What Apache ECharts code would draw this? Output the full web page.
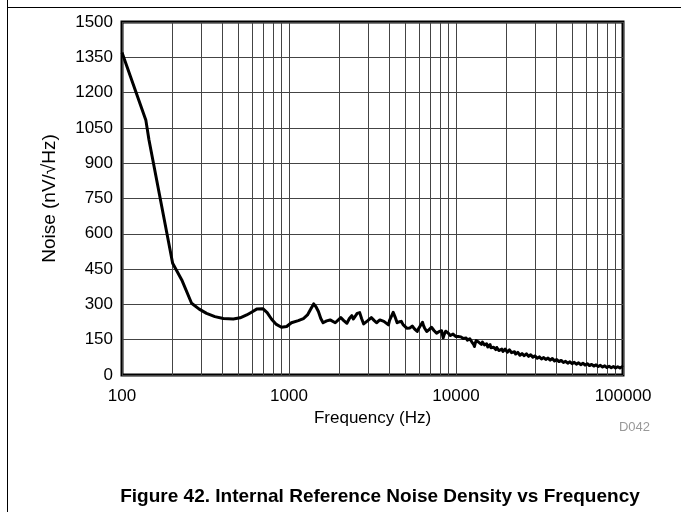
<!DOCTYPE html>
<html>
<head>
<meta charset="utf-8">
<script src="https://cdn.jsdelivr.net/npm/echarts@6/dist/echarts.min.js"></script>
<style>html,body{margin:0;padding:0;background:#fff;}#c{width:681px;height:512px;}</style>
</head>
<body>
<div id="c"></div>
<script>
const lowFreqHz = [100,139,145,201,228,261,290,321,360,404,464,510,558,600,640,697,740,787,840,901,968,1034,1137,1220,1290,1350,1405,1450,1500,1550,1600,1680,1763,1892,2042,2120,2222,2300,2377,2430,2491,2560,2650,2720,2800,2950,3110,3230,3343,3500,3700,3941];
const lowNoise = [1370,1082,1000,475,404,305,280,262,248,240,238,243,255,268,280,282,265,237,215,203,206,222,231,240,255,280,302,290,270,240,222,230,234,222,244,232,220,240,252,238,241,262,265,240,217,230,244,232,222,234,228,213];
const highFreqHz = [4000,4100,4207,4320,4440,4570,4700,4820,4950,5070,5200,5300,5380,5470,5560,5640,5700,5780,5860,5960,6080,6190,6300,6390,6480,6580,6680,6790,6900,7010,7130,7250,7380,7510,7650,7770,7900,8050,8200,8290,8380,8480,8580,8680,8780,8940,9100,9250,9400,9500,9600,9700,9800,9950,10100,10300,10500,10700,10900,11050,11200,11350,11500,11700,11900,12100,12300,12450,12600,12750,12900,13050,13200,13350,13500,13650,13800,14000,14200,14400,14600,14800,15000,15250,15500,15750,16000,16200,16400,16600,16800,17050,17300,17550,17800,18050,18300,18550,18800,19100,19400,19700,20000,20300,20600,20900,21200,21500,21800,22100,22400,22750,23100,23450,23800,24150,24500,24850,25200,25600,26000,26400,26800,27200,27600,28000,28400,28850,29300,29750,30200,30650,31100,31550,32000,32500,33000,33500,34000,34500,35000,35550,36100,36650,37200,37750,38300,38900,39500,40100,40700,41350,42000,42650,43300,43950,44600,45300,46000,46700,47400,48100,48800,49550,50300,51050,51800,52600,53400,54200,55000,55850,56700,57550,58400,59300,60200,61100,62000,62950,63900,64900,65900,66900,67900,68950,70000,71050,72100,73200,74300,75450,76600,77750,78900,80100,81300,82550,83800,85050,86300,87600,88900,90250,91600,93000,94400,95850,97300,98650,100000];
const highNoise = [232,240,266,246,222,226,228,214,207,199,192,200,198,208,204,196,194,188,185,196,206,214,224,210,200,192,185,190,193,200,203,195,189,182,178,186,184,192,188,172,158,170,178,186,190,180,172,168,164,172,174,168,176,164,160,164,156,162,166,155,150,160,157,148,145,154,150,140,138,130,121,136,146,154,152,140,137,144,130,140,141,128,126,133,119,127,129,116,113,122,118,110,108,117,114,104,102,111,110,100,104,110,105,97,99,107,106,95,93,101,99,89,87,96,94,84,83,91,91,82,84,90,88,79,78,86,85,76,75,81,79,71,70,77,75,68,68,74,73,66,66,72,70,63,64,70,68,60,60,66,64,57,56,62,61,53,52,58,57,50,50,56,54,48,48,54,52,46,46,52,50,44,45,50,48,42,42,48,46,40,40,45,44,38,38,43,42,36,36,41,40,34,34,39,37,32,33,37,36,31,31,36,34,30,30,35,33,30,31,35,33];
const minorGridHz = [200,300,400,500,600,700,800,900,2000,3000,4000,5000,6000,7000,8000,9000,20000,30000,40000,50000,60000,70000,80000,90000];
const yTicks = {min: 0, max: 1500, interval: 150};
const xTickLabels = ['100','1000','10000','100000'];

const freqHz = lowFreqHz.concat(highFreqHz);
const noise = lowNoise.concat(highNoise);

const chart = echarts.init(document.getElementById('c'), null, {renderer: 'canvas'});
const font = 'Liberation Sans, Arial, sans-serif';
const gridColor = '#444';
chart.setOption({
  animation: false,
  backgroundColor: '#fff',
  textStyle: {fontFamily: font},
  grid: {left: 122, right: 58, top: 22, bottom: 137, show: true, borderColor: '#000', borderWidth: 3, backgroundColor: 'transparent'},
  xAxis: {
    type: 'log', logBase: 10, min: 100, max: 100000,
    axisLine: {show: false}, axisTick: {show: false},
    axisLabel: {fontSize: 17, color: '#000', margin: 13, fontFamily: font,
      formatter: v => { const s = String(Math.round(v)); return xTickLabels.includes(s) ? s : ''; }},
    splitLine: {show: true, lineStyle: {color: gridColor, width: 1}},
    name: 'Frequency (Hz)', nameLocation: 'middle', nameGap: 33,
    nameTextStyle: {fontSize: 17, color: '#000', fontFamily: font}
  },
  yAxis: {
    type: 'value', min: yTicks.min, max: yTicks.max, interval: yTicks.interval,
    axisLine: {show: false}, axisTick: {show: false},
    axisLabel: {fontSize: 17, color: '#000', margin: 9, fontFamily: font, formatter: v => String(v)},
    splitLine: {show: true, lineStyle: {color: gridColor, width: 1}},
    name: 'Noise (nV/√Hz)', nameLocation: 'middle', nameGap: 63,
    nameTextStyle: {fontSize: 19, color: '#000', fontFamily: font}
  },
  series: [
    {
      type: 'line', z: 1, data: [[100, 0]], showSymbol: false, lineStyle: {width: 0}, silent: true,
      markLine: {
        silent: true, symbol: ['none', 'none'], label: {show: false},
        lineStyle: {color: gridColor, width: 1, type: 'solid'},
        data: minorGridHz.map(f => ({xAxis: f}))
      }
    },
    {
      type: 'line', z: 5, showSymbol: false, smooth: false,
      lineStyle: {color: '#000', width: 3, join: 'round'},
      data: freqHz.map((f, i) => [f, noise[i]])
    }
  ],
  graphic: [
    {type: 'line', shape: {x1: 7.5, y1: 0, x2: 7.5, y2: 512}, style: {stroke: '#000', lineWidth: 1}},
    {type: 'line', shape: {x1: 7, y1: 7.5, x2: 681, y2: 7.5}, style: {stroke: '#000', lineWidth: 1}},
    {type: 'text', x: 650, y: 427, style: {text: 'D042', fontSize: 13, fill: '#999', fontFamily: font, textAlign: 'right', textVerticalAlign: 'middle'}},
    {type: 'text', x: 380, y: 497, style: {text: 'Figure 42. Internal Reference Noise Density vs Frequency', fontSize: 19, fontWeight: 'bold', fill: '#000', fontFamily: font, textAlign: 'center', textVerticalAlign: 'middle'}}
  ]
});
</script>
</body>
</html>
